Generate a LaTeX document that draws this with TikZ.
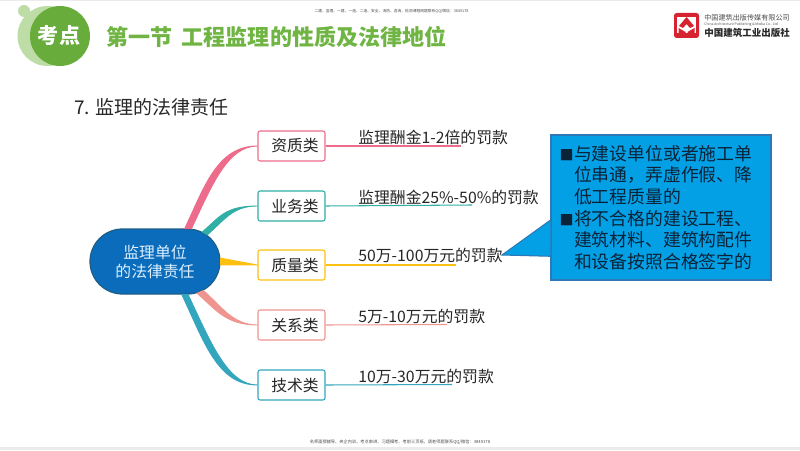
\documentclass[tikz,border=0pt]{standalone}
\usepackage{fontspec}
\setmainfont{Noto Sans CJK SC}
\usetikzlibrary{calc,positioning,shapes.misc}

\definecolor{badgegreen}{HTML}{68AC3C}
\definecolor{badgelight}{HTML}{BEDCA6}
\definecolor{titlegreen}{HTML}{70B544}
\definecolor{rootblue}{HTML}{0A6CBB}
\definecolor{rootedge}{HTML}{1F5E87}
\definecolor{rootlabel}{HTML}{DDF0FF}
\definecolor{pinkline}{HTML}{EE6C8B}
\definecolor{tealline}{HTML}{2FAFA5}
\definecolor{goldline}{HTML}{FDC010}
\definecolor{salmonline}{HTML}{EE9590}
\definecolor{cyanline}{HTML}{33A6BD}
\definecolor{notefill}{HTML}{04A0E6}
\definecolor{noteedge}{HTML}{2E79B5}
\definecolor{notetext}{HTML}{0B2338}
\definecolor{logored}{HTML}{D5232F}

\tikzset{
  every node/.style={inner sep=0pt,text=black!85},
  rootbox/.style={rounded rectangle,draw=rootedge,line width=0.7pt,fill=rootblue,
    minimum width=2.6cm,minimum height=1.3cm,text=rootlabel,align=center,
    font=\fontsize{9}{10.8}\selectfont},
  catbox/.style={rectangle,rounded corners=1.2pt,fill=white,line width=0.6pt,
    minimum width=1.34cm,minimum height=0.6cm,font=\fontsize{9}{11}\selectfont,
    execute at begin node=\hspace*{4pt}},
  finetext/.style={anchor=west,font=\fontsize{9}{11}\selectfont},
  tinytext/.style={text=black!70},
  underline/.style={line width=0.6pt},
  branch/.style={line width=0.5pt,draw=#1,fill=#1}
}
\newcommand{\notebullet}{\makebox[7.4pt][l]{\hspace*{-0.8pt}\fontsize{8}{8}\selectfont ■}}

\begin{document}
\begin{tikzpicture}
    \useasboundingbox (0,0) rectangle (16,9);

    % page strips
    \fill[black!8] (0,8.98) rectangle (16,9);
    \fill[black!8] (0,0) rectangle (16,0.06);

    % badge
    \fill[badgelight] (0.48,8.78) circle (0.12);
    \fill[badgelight] (0.95,8.28) circle (0.6);
    \fill[badgegreen] (1.2,8.28) circle (0.6);
    \node[font=\fontsize{12}{12}\bfseries\selectfont,text=white] (badge) at (1.18,8.3) {考点};
    \node[anchor=west,font=\fontsize{12.55}{14}\bfseries\selectfont,text=titlegreen] (title) at (2.13,8.27)
        {第一节\hspace{5pt}工程监理的性质及法律地位};
    \node[anchor=west,font=\fontsize{10.8}{12}\selectfont] (heading) at (1.48,6.85) {7. 监理的法律责任};

    % small lines
    \node[tinytext,font=\fontsize{2.15}{3}\selectfont] (headnote) at (7.83,8.77) {二建、监理、一建、一造、二造、安全、消防、咨询，检测课程网题联系QQ/微信：3849178};
    \node[tinytext,font=\fontsize{2.4}{3}\selectfont] (footnote) at (8,0.16) {名师面授辅导、央企内训、考点串讲、习题模考、考前三页纸，请老师题联系QQ/微信：3849178};

    % logo
    \fill[logored,rounded corners=1.5pt] (13.48,8.24) rectangle (13.98,8.74);
    \fill[white] (13.54,8.33) rectangle (13.92,8.66);
    \fill[logored] (13.58,8.48) -- (13.73,8.66) -- (13.88,8.48) -- (13.8,8.44) -- (13.73,8.52) -- (13.66,8.44) -- cycle;
    \fill[logored] (13.57,8.3) -- (13.57,8.44) -- (13.71,8.36) -- (13.71,8.28) -- cycle;
    \fill[logored] (13.89,8.3) -- (13.89,8.44) -- (13.75,8.36) -- (13.75,8.28) -- cycle;
    \node[anchor=west,font=\fontsize{4.05}{5}\selectfont,text=black!70] (pressname) at (14.08,8.64) {中国建筑出版传媒有限公司};
    \node[anchor=west,font=\fontsize{1.95}{3}\selectfont,text=black!70] (pressen) at (14.08,8.5) {China Architecture Publishing \& Media Co., Ltd};
    \node[anchor=west,font=\fontsize{5.4}{6}\bfseries\selectfont] (pressbook) at (14.08,8.34) {中国建筑工业出版社};

    % mind map
    \node[rootbox] (root) at (3.1,3.77) {监理单位\\的法律责任};

    \node[catbox,draw=pinkline] (zizhi) at (5.83,6.08) {资质类};
    \node[catbox,draw=tealline] (yewu) at (5.83,4.88) {业务类};
    \node[catbox,draw=goldline] (zhiliang) at (5.83,3.7) {质量类};
    \node[catbox,draw=salmonline] (guanxi) at (5.83,2.5) {关系类};
    \node[catbox,draw=cyanline] (jishu) at (5.83,1.3) {技术类};

    \path[branch=pinkline] (root.42) .. controls +(0.4,0.85) and +(-0.6,0) .. (zizhi.west)
        .. controls +(-0.8,0) and +(0.4,0.85) .. (root.48) -- cycle;
    \path[branch=tealline] (root.27) .. controls +(0.35,0.3) and +(-0.5,0) .. (yewu.west)
        .. controls +(-0.65,0) and +(0.35,0.3) .. (root.32) -- cycle;
    \path[branch=goldline] (root.3) -- (zhiliang.west) -- (root.-3) -- cycle;
    \path[branch=salmonline] (root.-31) .. controls +(0.35,-0.3) and +(-0.5,0) .. (guanxi.west)
        .. controls +(-0.65,0) and +(0.35,-0.3) .. (root.-37) -- cycle;
    \path[branch=cyanline] (root.-45) .. controls +(0.45,-0.95) and +(-0.6,0) .. (jishu.west)
        .. controls +(-0.8,0) and +(0.45,-0.95) .. (root.-51) -- cycle;

    \coordinate (zizhiend) at (9.22,6.08);
    \coordinate (yewuend) at (9.44,4.9);
    \coordinate (zhiliangend) at (9.12,3.7);
    \coordinate (guanxiend) at (8.94,2.51);
    \coordinate (jishuend) at (9.04,1.31);

    \draw[underline,pinkline] (zizhi.east) -- (zizhiend);
    \draw[underline,tealline] (yewu.east) -- (yewuend);
    \draw[underline,goldline] (zhiliang.east) -- (zhiliangend);
    \draw[underline,salmonline] (guanxi.east) -- (guanxiend);
    \draw[underline,cyanline] (jishu.east) -- (jishuend);

    \node[finetext] (zizhitext) at (7.16,6.25) {监理酬金1-2倍的罚款};
    \node[finetext] (yewutext) at (7.16,5.06) {监理酬金25\%-50\%的罚款};
    \node[finetext] (zhiliangtext) at (7.16,3.89) {50万-100万元的罚款};
    \node[finetext] (guanxitext) at (7.16,2.67) {5万-10万元的罚款};
    \node[finetext] (jishutext) at (7.16,1.48) {10万-30万元的罚款};

    % note
    \node[rectangle,draw=noteedge,fill=notefill,line width=0.6pt,inner xsep=0.2cm,text width=4cm,minimum height=2.9cm,
        align=left,text=notetext,font=\fontsize{10.15}{12.3}\selectfont] (note) at (13.22,4.85)
        {\notebullet 与建设单位或者施工单\\
         \hspace*{7.4pt}位串通，弄虚作假、降\\
         \hspace*{7.4pt}低工程质量的\\
         \notebullet 将不合格的建设工程、\\
         \hspace*{7.4pt}建筑材料、建筑构配件\\
         \hspace*{7.4pt}和设备按照合格签字的};
    \coordinate (tip) at (10.04,3.9);
    \coordinate (notetop) at ($(note.north west)!0.586!(note.south west)$);
    \coordinate (notelow) at ($(note.north west)!0.834!(note.south west)$);
    \fill[notefill] (notetop) -- (tip) -- (notelow) -- cycle;
    \draw[noteedge,line width=0.6pt] (notetop) -- (tip) -- (notelow);
\end{tikzpicture}
\end{document}
